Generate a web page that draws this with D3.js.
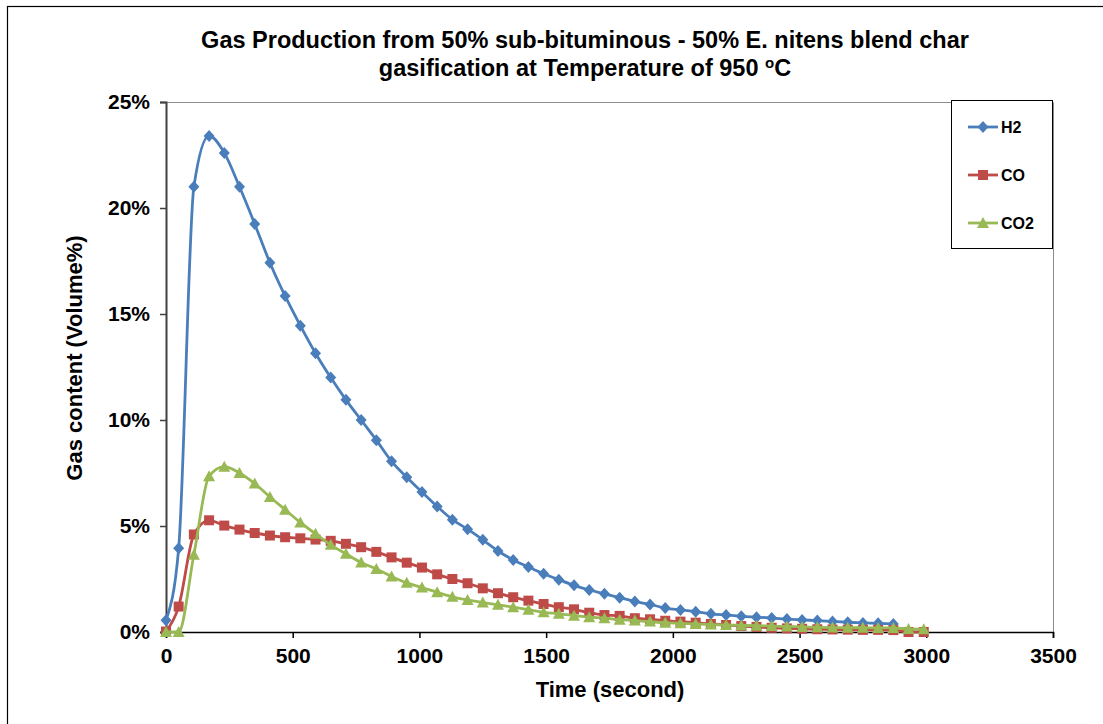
<!DOCTYPE html>
<html>
<head>
<meta charset="utf-8">
<script src="https://cdn.jsdelivr.net/npm/d3@7"></script>
<style>
  body { margin: 0; background: #fff; }
  svg { font-family: "Liberation Sans", Arial, sans-serif; }
  .tick text { font-size: 21px; font-weight: bold; fill: #000; }
</style>
</head>
<body>
<svg width="1103" height="724"></svg>
<script>
// time (s) for CO / CO2 ; H2 stops a bit earlier
var times = [0, 50, 110, 170, 230, 290, 350, 410, 470, 530, 590, 650, 710, 770, 830, 890, 950,
    1010, 1070, 1130, 1190, 1250, 1310, 1370, 1430, 1490, 1550, 1610, 1670, 1730, 1790, 1850,
    1910, 1970, 2030, 2090, 2150, 2210, 2270, 2330, 2390, 2450, 2510, 2570, 2630, 2690, 2750,
    2810, 2870, 2930, 2990];

var h2 = [0.55, 3.95, 21.0, 23.4, 22.6, 21.0, 19.25, 17.42, 15.85, 14.45, 13.15, 12.0, 10.95,
    10.0, 9.05, 8.05, 7.3, 6.6, 5.92, 5.3, 4.85, 4.35, 3.82, 3.4, 3.07, 2.75, 2.47, 2.2, 1.98,
    1.8, 1.62, 1.44, 1.3, 1.13, 1.04, 0.96, 0.86, 0.8, 0.74, 0.7, 0.66, 0.61, 0.57, 0.54, 0.5,
    0.46, 0.43, 0.41, 0.38];

var co = [0.02, 1.2, 4.6, 5.27, 5.02, 4.83, 4.67, 4.55, 4.47, 4.42, 4.36, 4.3, 4.16, 4.0, 3.78,
    3.52, 3.27, 3.04, 2.72, 2.5, 2.3, 2.06, 1.83, 1.64, 1.48, 1.32, 1.17, 1.07, 0.91, 0.8, 0.76,
    0.65, 0.6, 0.53, 0.49, 0.44, 0.38, 0.33, 0.28, 0.24, 0.2, 0.17, 0.15, 0.13, 0.12, 0.11, 0.1,
    0.1, 0.09, 0.0, 0.0];

var co2 = [0.0, 0.0, 3.64, 7.35, 7.8, 7.5, 7.0, 6.37, 5.77, 5.17, 4.63, 4.11, 3.69, 3.28, 2.97,
    2.62, 2.32, 2.1, 1.87, 1.66, 1.51, 1.39, 1.28, 1.17, 1.05, 0.93, 0.86, 0.77, 0.7, 0.65, 0.58,
    0.54, 0.49, 0.44, 0.41, 0.38, 0.35, 0.33, 0.31, 0.3, 0.28, 0.26, 0.24, 0.22, 0.21, 0.2, 0.2,
    0.19, 0.19, 0.14, 0.13];

var seriesNames = ["H2", "CO", "CO2"];
var seriesColors = ["#4A7EBB", "#BE4B48", "#98B954"];
var seriesMarkers = ["diamond", "square", "triangle"];
var xTicks = [0, 500, 1000, 1500, 2000, 2500, 3000, 3500];
var yTicks = [0, 5, 10, 15, 20, 25];

var svg = d3.select("svg");
var plot = {left: 166, right: 1053, top: 102, bottom: 632};

// outer chart border (right/bottom fall off the picture)
svg.append("rect")
    .attr("x", 7.5).attr("y", 6.5)
    .attr("width", 1100).attr("height", 730)
    .attr("fill", "none").attr("stroke", "#000").attr("stroke-width", 1.2);

var x = d3.scaleLinear().domain([0, 3500]).range([plot.left, plot.right]);
var y = d3.scaleLinear().domain([0, 25]).range([plot.bottom, plot.top]);

// plot area top/right edges
svg.append("path")
    .attr("d", "M" + plot.left + "," + (plot.top + 0.5) + "H" + (plot.right + 0.5) + "V" + plot.bottom)
    .attr("fill", "none").attr("stroke", "#8c8c8c").attr("stroke-width", 1);

var xAxis = svg.append("g")
    .attr("transform", "translate(0," + plot.bottom + ")")
    .call(d3.axisBottom(x).tickValues(xTicks).tickSize(6).tickPadding(10).tickFormat(d3.format("d")));
xAxis.select(".domain").attr("stroke", "#000").attr("stroke-width", 1.5);
xAxis.selectAll(".tick line").attr("stroke", "#000").attr("stroke-width", 1.5);

var yAxis = svg.append("g")
    .attr("transform", "translate(" + plot.left + ",0)")
    .call(d3.axisLeft(y).tickValues(yTicks).tickSize(6).tickPadding(10).tickFormat(function(d) { return d + "%"; }));
yAxis.select(".domain").attr("stroke", "#404040").attr("stroke-width", 2);
yAxis.selectAll(".tick line").attr("stroke", "#404040").attr("stroke-width", 1.5);

function markerPath(kind) {
    if (kind == "diamond") return "M0,-6L5.5,0L0,6L-5.5,0Z";
    if (kind == "square") return "M-5,-5H5V5H-5Z";
    return "M0,-6L6,5H-6Z";
}

var allSeries = [h2, co, co2];
var line = d3.line()
    .x(function(d) { return x(d[0]); })
    .y(function(d) { return y(d[1]); })
    .curve(d3.curveMonotoneX);

allSeries.forEach(function(vals, k) {
    var pts = vals.map(function(v, i) { return [times[i], v]; });
    var g = svg.append("g");
    g.append("path")
        .attr("d", line(pts))
        .attr("fill", "none")
        .attr("stroke", seriesColors[k])
        .attr("stroke-width", 2.8);
    g.selectAll(".m")
        .data(pts)
        .enter()
        .append("path")
        .attr("transform", function(d) { return "translate(" + x(d[0]) + "," + y(d[1]) + ")"; })
        .attr("d", markerPath(seriesMarkers[k]))
        .attr("fill", seriesColors[k]);
});

// legend
var leg = svg.append("g");
leg.append("rect")
    .attr("x", 951.5).attr("y", 100.5).attr("width", 101).attr("height", 148)
    .attr("fill", "#fff").attr("stroke", "#000").attr("stroke-width", 1);
seriesNames.forEach(function(name, k) {
    var ly = 127 + k * 48;
    leg.append("line")
        .attr("x1", 968).attr("x2", 998).attr("y1", ly).attr("y2", ly)
        .attr("stroke", seriesColors[k]).attr("stroke-width", 2.8);
    leg.append("path")
        .attr("transform", "translate(983," + ly + ")")
        .attr("d", markerPath(seriesMarkers[k]))
        .attr("fill", seriesColors[k]);
    leg.append("text")
        .attr("x", 1001).attr("y", ly + 6)
        .attr("font-size", 16).attr("font-weight", "bold")
        .text(name);
});

// titles
var title = svg.append("text")
    .attr("text-anchor", "middle")
    .attr("font-size", 23.5).attr("font-weight", "bold");
title.append("tspan").attr("x", 585).attr("y", 48)
    .text("Gas Production from 50% sub-bituminous - 50% E. nitens blend char");
var t2 = title.append("tspan").attr("x", 585).attr("y", 76);
t2.append("tspan").text("gasification at Temperature of 950 ");
t2.append("tspan").attr("font-size", 15).attr("dy", -8).text("o");
t2.append("tspan").attr("dy", 8).text("C");

svg.append("text")
    .attr("x", 610).attr("y", 697)
    .attr("text-anchor", "middle")
    .attr("font-size", 22).attr("font-weight", "bold")
    .text("Time (second)");

svg.append("text")
    .attr("transform", "translate(82,358) rotate(-90)")
    .attr("text-anchor", "middle")
    .attr("font-size", 22).attr("font-weight", "bold")
    .text("Gas content (Volume%)");
</script>
</body>
</html>
